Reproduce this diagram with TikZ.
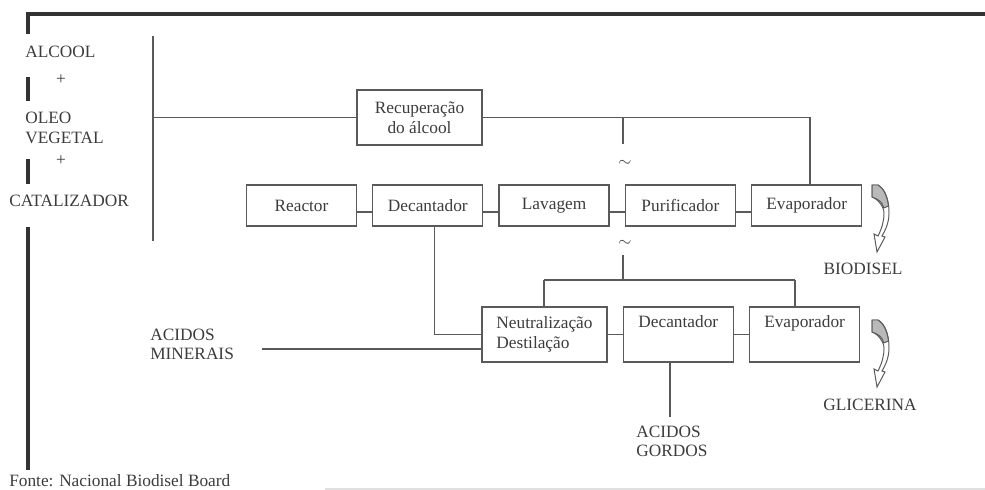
\documentclass[tikz,border=0pt]{standalone}
\usepackage{fontspec}
\setmainfont{Liberation Serif}
\usetikzlibrary{positioning}

\definecolor{linegray}{HTML}{5A5A5A}
\definecolor{textgray}{HTML}{3C3C3C}

\tikzset{
  box/.style={draw=linegray, line width=0.9pt, text=textgray,
    minimum width=2.75cm, minimum height=1.025cm, inner sep=2pt},
  tallbox/.style={box, minimum height=1.375cm, align=center},
  flow/.style={draw=linegray, line width=0.9pt},
  frame/.style={draw=black!80, line width=2.4pt},
  lbl/.style={text=textgray, inner sep=0pt},
  outarrow/.pic={
    \draw[linegray, line width=0.7pt, fill=white]
      (0,0) -- (6,0) .. controls (13,4) and (17,14) .. (17,28)
      .. controls (17,38) and (13,46) .. (10,51) -- (13,52) -- (5,67)
      -- (2,49) -- (6,51) .. controls (10,43) and (12,36) .. (12,28)
      .. controls (12,22) and (6,14) .. (0,12) -- cycle;
    \fill[gray!55, draw=linegray, line width=0.7pt]
      (0,0) -- (6,0) .. controls (11,3) and (15,10) .. (16.5,21)
      -- (11.8,23) .. controls (10.5,17) and (6,14) .. (0,12) -- cycle;
  }
}

\begin{document}
\begin{tikzpicture}[x=0.025cm, y=-0.025cm, font=\fontsize{12.3}{14}\selectfont]
\useasboundingbox (0,0) rectangle (985,490);

% frame on the left and top
\draw[frame] (985,14) -- (28,14) -- (28,34);
\draw[frame] (28,77) -- (28,101);
\draw[frame] (28,159) -- (28,184);
\draw[frame] (28,227) -- (28,470);

% raw materials
\node[lbl, anchor=west] (alcool) at (25,52) {ALCOOL};
\node[lbl] (plus1) at (61,80) {+};
\node[lbl, anchor=west, align=left] (oleo) at (25,128) {OLEO\\VEGETAL};
\node[lbl] (plus2) at (61,161) {+};
\node[lbl, anchor=west] (catal) at (9,201) {CATALIZADOR};

% main line
\node[box] (reactor) at (301.5,205.5) {Reactor};
\node[box, right=0.375cm of reactor] (decant) {Decantador};
\node[box, right=0.375cm of decant] (lavagem) {Lavagem};
\node[box, right=0.375cm of lavagem] (purif) {Purificador};
\node[box, right=0.375cm of purif] (evap) {Evaporador};
\node[box, minimum width=3.125cm, minimum height=1.375cm, align=center]
  (recup) at (419.5,117.5) {Recuperação\\do álcool};

% glycerine line
\node[tallbox, minimum width=3.125cm, align=left] (neutral) at (544.5,334.5)
  {Neutralização\\Destilação};
\node[tallbox, right=0.375cm of neutral] (decantg) {Decantador\\ \strut};
\node[tallbox, right=0.375cm of decantg] (evapg) {Evaporador\\ \strut};

% feed collector
\coordinate (feedtop) at (153,36);
\coordinate (feedbot) at (153,241);
\coordinate (feedmid) at (153,117.5);
\draw[flow] (feedtop) -- (feedbot);
\draw[flow] (feedmid) -- (recup.west);

% alcohol return
\coordinate (evapin) at (810,185);
\draw[flow] (recup.east) -| (evapin);
\coordinate (recbranch) at (623,117.5);
\coordinate (recstub) at (623,144);
\draw[flow] (recbranch) -- (recstub);
\node[lbl] (tilde1) at (625,163) {$\sim$};

\foreach \a/\b in {reactor/decant, decant/lavagem, lavagem/purif, purif/evap}
  \draw[flow] ([yshift=-0.16cm]\a.east) -- ([yshift=-0.16cm]\b.west);

% split to glycerine line
\node[lbl] (tilde2) at (625,243) {$\sim$};
\coordinate (purstub) at (623,255);
\coordinate (splitc) at (623,280);
\coordinate (splitl) at (544,280);
\coordinate (splitr) at (795,280);
\draw[flow] (purstub) -- (splitc);
\draw[flow] (splitl) -- (splitr);
\draw[flow] (splitl) -- (splitl |- neutral.north);
\draw[flow] (splitr) -- (splitr |- evapg.north);

\draw[flow] ([xshift=0.175cm]decant.south) |- (neutral.west);
\foreach \a/\b in {neutral/decantg, decantg/evapg}
  \draw[flow] (\a) -- (\b);

% mineral acids
\node[lbl, anchor=west, align=left] (minerais) at (150,344.5) {ACIDOS\\MINERAIS};
\coordinate (minend) at (262,349);
\draw[flow] (minend) -- (minend -| neutral.west);

% fatty acids
\coordinate (gordosend) at (670,417);
\draw[flow] (gordosend |- decantg.south) -- (gordosend);
\node[lbl, anchor=west, align=left] (gordos) at (636,441.5) {ACIDOS\\GORDOS};

% products
\pic at (872,185) {outarrow};
\node[lbl] (biodisel) at (863,269) {BIODISEL};
\pic at (872,320) {outarrow};
\node[lbl] (glicerina) at (870,405) {GLICERINA};

% source
\node[lbl, anchor=base west] (fonte) at (9,486) {Fonte: Nacional Biodisel Board};
\draw[black!12, line width=0.8pt] (325,489) -- (985,489);
\end{tikzpicture}
\end{document}
